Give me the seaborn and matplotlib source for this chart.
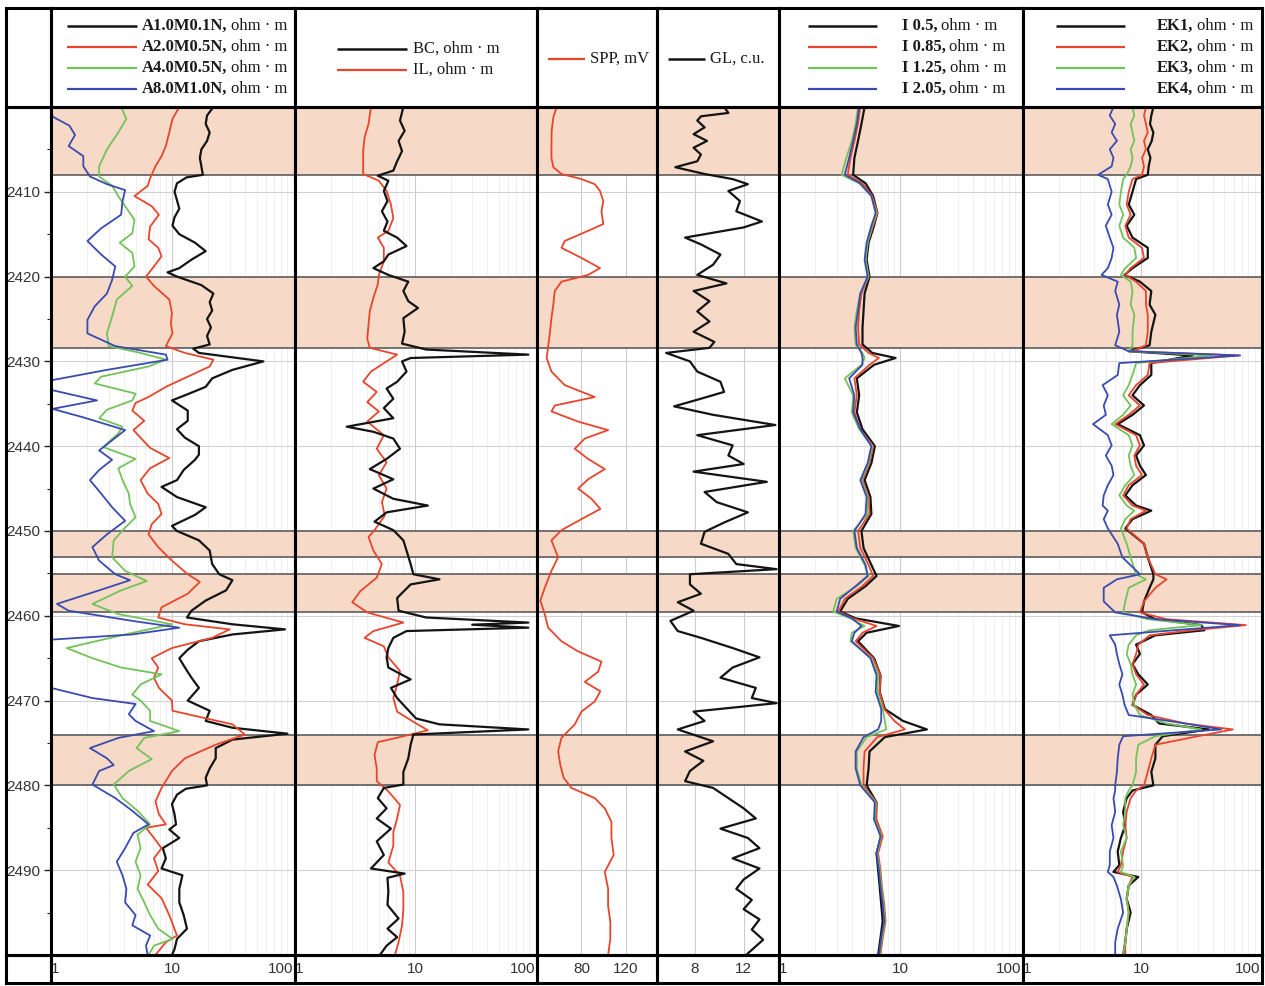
import matplotlib
matplotlib.use("Agg")
import matplotlib.pyplot as plt
import matplotlib.ticker as mticker
import seaborn as sns

# ---- layout (pixels of the 1265x986 picture) ----
W, H = 1265, 986
COLS = [6, 51, 295, 537, 657, 779, 1023, 1262]
Y_TOP, Y_HDR, Y_BOT, Y_END = 8, 107, 955, 983

BLACK = "#141414"
RED = "#e8452c"
GREEN = "#74c25a"
BLUE = "#3a4bb0"
BAND = "#f6d9c7"

BANDS = [(2400, 2408), (2420, 2428.4), (2450, 2453.1), (2455.1, 2459.5), (2474, 2480)]

# ---- track 1: lateral sounding ----
T1_BLACK_D = [2400, 2401, 2402, 2403, 2404, 2405, 2406, 2407, 2408, 2408.3,
              2409, 2410, 2411, 2412, 2413, 2414, 2415, 2416, 2417, 2418,
              2419, 2419.5, 2420, 2421, 2422, 2423, 2424, 2425, 2426, 2427,
              2428, 2428.5, 2429, 2430, 2431, 2432, 2433, 2434, 2434.6, 2435.8,
              2437, 2438, 2439, 2440, 2441, 2441.6, 2442.8, 2444, 2444.8, 2446,
              2447.2, 2448.1, 2449.4, 2450, 2451.1, 2452.3, 2453.9, 2455.1, 2455.8, 2457,
              2458.2, 2459.4, 2460.2, 2461, 2461.6, 2462.2, 2463, 2464, 2465, 2466.1,
              2467.3, 2468.5, 2470, 2471.2, 2472.4, 2473.2, 2473.9, 2474.6, 2475.6, 2476.8,
              2478, 2479.1, 2480, 2480.4, 2481.1, 2482.2, 2483.4, 2484.6, 2485.2, 2486.2,
              2487.4, 2488.6, 2489.8, 2490.6, 2492.2, 2493.8, 2495.3, 2496.9, 2498.1, 2499.3,
              2500]
T1_BLACK = [22, 19.5, 19, 20.5, 19.5, 17.5, 17, 17.5, 18, 13.2,
            11, 10.5, 11, 11.5, 10.5, 10.1, 11.5, 15.5, 19, 14.5,
            11.5, 9.2, 11, 17.5, 22, 20.5, 21.5, 19.5, 21, 19.5,
            20.5, 15, 16.7, 57, 31.6, 21.5, 19, 12.8, 10, 13.5,
            13.5, 11, 12.8, 16.7, 16.7, 15.5, 12.5, 11, 8.2, 11,
            19, 15.5, 10, 11, 16.7, 20.5, 21.5, 24.6, 31.6, 28,
            19, 14.5, 13.3, 31.6, 86, 31.6, 16.7, 13.5, 11.5, 12.8,
            14.5, 16.7, 13.5, 20.5, 19, 31.6, 90, 31.6, 23, 23,
            20.5, 19, 19.5, 13, 11, 10, 10.5, 10.8, 9.5, 11.5,
            8.4, 8.9, 8.2, 12.2, 11.5, 11.5, 12.5, 13.3, 11, 10.5,
            10]

T1_RED_D = [2400, 2401.4, 2403, 2404.6, 2405.8, 2407, 2408.4, 2409.3, 2410.5, 2411.7,
            2412.7, 2414.1, 2415.6, 2416.6, 2417.6, 2418.8, 2420, 2421.1, 2422.7, 2424.3,
            2425.5, 2426.7, 2428.2, 2429, 2429.8, 2430.6, 2431.8, 2433, 2434.2, 2434.9,
            2435.8, 2437, 2438.1, 2439, 2440.2, 2441.4, 2442.6, 2444, 2445.6, 2446.8,
            2448, 2449.2, 2450.4, 2451.9, 2453.5, 2455.1, 2456, 2457.4, 2459, 2460.2,
            2461, 2461.6, 2462.6, 2463.8, 2465, 2466.1, 2467.3, 2468.5, 2470, 2471.2,
            2472.8, 2474, 2475.2, 2476.8, 2478.3, 2480.3, 2481.9, 2483.4, 2484.6, 2485,
            2486.2, 2487.4, 2488.6, 2490.1, 2491.7, 2493.3, 2495.3, 2497.7, 2498.5, 2500]
T1_RED = [11.5, 10.1, 9.5, 8.9, 8.2, 7.3, 6.6, 6.3, 4.9, 6.8,
          7.8, 6.6, 6.4, 7.7, 8.2, 7.1, 6.1, 7.1, 9.5, 10,
          9.8, 10.1, 8.9, 12.8, 22, 20.5, 13.5, 8.9, 6.4, 5.0,
          4.7, 5.9, 4.8, 5.5, 6.6, 9.5, 6.6, 5.5, 6.3, 7.7,
          8.2, 6.8, 6.4, 7.7, 10, 13.5, 17, 13.5, 8.2, 7.7,
          12.8, 30, 21.5, 10, 6.8, 7.7, 7.1, 7.8, 10, 10.1,
          31.6, 40, 23, 12.8, 10, 8.2, 7.3, 7.8, 8.9, 6.1,
          7.1, 8.2, 7.1, 7.7, 6.3, 8.2, 9.5, 11, 8.9, 7.3]

T1_GREEN_D = [2400, 2401.4, 2403, 2405, 2407, 2408.2, 2409.3, 2410.5, 2411.7, 2413.3,
              2414.9, 2416, 2417.2, 2418.8, 2420, 2421.1, 2422.7, 2424.7, 2426.7, 2428.2,
              2429, 2429.8, 2430.6, 2431.8, 2432.6, 2433.8, 2434.6, 2435.7, 2436.7, 2437.7,
              2438.5, 2440.1, 2441.5, 2442.6, 2444, 2445.6, 2446.8, 2448.4, 2449.6, 2451.1,
              2453.1, 2454.7, 2455.9, 2457, 2458.6, 2459.8, 2461, 2462.2, 2463.8, 2465,
              2466.1, 2466.9, 2468.1, 2469.3, 2470, 2471.2, 2472.4, 2473.6, 2474.4, 2475.6,
              2476.9, 2478.3, 2479.9, 2481.5, 2483, 2484.6, 2485.8, 2487.4, 2489, 2490.6,
              2492.2, 2493.8, 2495.3, 2496.9, 2498.1, 2498.9, 2500]
T1_GREEN = [3.8, 4.2, 3.6, 2.9, 2.5, 2.5, 3.2, 3.6, 4.1, 4.9,
            4.7, 3.7, 4.7, 4.9, 4.1, 4.7, 3.5, 3.2, 2.9, 3.0,
            5.5, 8.9, 6.4, 2.6, 2.3, 5.0, 4.7, 2.9, 2.5, 3.9,
            3.6, 2.7, 5.0, 3.6, 3.9, 4.4, 4.5, 5.0, 4.1, 3.3,
            3.2, 4.1, 6.2, 3.8, 2.2, 3.6, 10, 4.1, 1.35, 2.2,
            3.8, 8.2, 5.5, 4.7, 5.5, 6.6, 6.6, 11.5, 5.9, 5.1,
            6.8, 4.4, 3.3, 3.9, 5.2, 6.6, 5.2, 5.5, 5.0, 5.5,
            5.2, 5.9, 6.6, 7.7, 10.1, 7.1, 6.4]

T1_BLUE_D = [2400, 2401.2, 2402.2, 2403.3, 2404.6, 2405.8, 2407, 2408.2, 2409.1, 2409.8,
             2411.1, 2412.7, 2414.3, 2415.8, 2417.4, 2418.8, 2420.4, 2422, 2423.5, 2425.1,
             2426.7, 2428.2, 2429.2, 2429.8, 2431, 2432.2, 2432.8, 2433.4, 2434.6, 2435.6,
             2436.6, 2438.1, 2439.3, 2440.5, 2441.6, 2442.8, 2444, 2445.6, 2447.2, 2448.8,
             2450.4, 2451.9, 2453.5, 2455.1, 2455.8, 2457, 2458.6, 2459.4, 2460.6, 2461.4,
             2462.2, 2462.8, 2463.4, 2468, 2468.5, 2469.7, 2470.4, 2471.6, 2472.4, 2473.6,
             2474.4, 2475.6, 2476.8, 2477.6, 2478.3, 2479.9, 2481.5, 2483, 2484.6, 2485.6,
             2487.4, 2489, 2490.6, 2492.2, 2493.8, 2495.3, 2496.5, 2497.7, 2498.9, 2500]
T1_BLUE = [0.9, 1.05, 1.42, 1.58, 1.4, 1.85, 1.85, 2.1, 2.9, 4.1,
           3.9, 3.8, 2.6, 2.0, 2.6, 3.4, 3.2, 2.9, 2.3, 2.0,
           2.0, 3.4, 8.9, 9.2, 2.9, 1.03, 0.9, 1.03, 2.4, 1.03,
           1.85, 4.1, 3.2, 2.5, 3.2, 2.5, 2.1, 2.6, 3.2, 4.1,
           2.9, 2.2, 2.5, 3.4, 4.5, 2.5, 1.12, 1.4, 4.7, 11.5,
           4.7, 1.03, 0.85, 0.85, 1.0, 2.2, 5.0, 4.4, 5.0, 7.1,
           3.6, 2.1, 2.9, 3.3, 2.5, 2.2, 3.4, 4.7, 6.4, 4.8,
           4.1, 3.5, 3.9, 4.2, 4.1, 5.0, 4.7, 6.6, 6.1, 6.3]

# ---- track 2: BC and IL ----
T2_BC_D = [2400, 2401.6, 2402.8, 2404, 2405.2, 2406.4, 2407.5, 2408.1, 2408.7, 2409.9,
           2411.1, 2412.3, 2413.5, 2414.6, 2415.4, 2416.4, 2417.4, 2418.2, 2419, 2419.8,
           2420.6, 2421.7, 2422.9, 2423.7, 2424.9, 2426.5, 2427.9, 2428.6, 2429.2, 2429.6,
           2430, 2431.2, 2432.4, 2433.2, 2434.4, 2435.5, 2436.7, 2437.7, 2438.3, 2439.1,
           2440.3, 2441.5, 2442.7, 2443.9, 2445, 2446.2, 2447, 2447.8, 2448.9, 2449.9,
           2451.1, 2452.3, 2453.9, 2455.1, 2455.7, 2456.3, 2457.9, 2459.4, 2460.2, 2460.8,
           2461.05, 2461.4, 2461.8, 2462.6, 2463.8, 2464.9, 2466.1, 2467.5, 2468.5, 2469.7,
           2470.9, 2472.1, 2472.8, 2473.4, 2474, 2475.2, 2476.8, 2478.4, 2479.9, 2480.3,
           2481.5, 2482.7, 2483.9, 2485.1, 2486.6, 2488.2, 2489.8, 2490.4, 2490.9, 2492.5,
           2494.1, 2495.7, 2496.9, 2497.9, 2498.9, 2500]
T2_BC = [8.0, 7.5, 8.2, 7.3, 7.8, 7.1, 6.6, 4.9, 6.0, 5.5,
         5.9, 5.3, 5.9, 5.5, 7.1, 8.5, 6.0, 5.5, 4.5, 6.0,
         8.8, 8.0, 8.8, 10.6, 8.0, 8.2, 7.8, 12.4, 88, 9.2,
         7.8, 8.5, 7.1, 5.8, 6.6, 5.5, 6.6, 2.7, 4.5, 6.6,
         7.5, 5.8, 4.2, 6.6, 4.5, 6.6, 12.8, 5.8, 4.6, 6.6,
         8.0, 8.5, 9.2, 9.7, 16, 9.2, 7.1, 7.3, 12.4, 88,
         30, 88, 8.5, 6.6, 6.0, 5.8, 6.0, 9.2, 6.3, 7.1,
         8.5, 10.2, 16, 88, 9.7, 9.2, 8.8, 8.0, 8.0, 5.5,
         4.9, 5.8, 4.8, 6.3, 4.8, 5.5, 4.3, 8.2, 5.9, 6.0,
         5.9, 7.3, 5.9, 7.1, 5.8, 5.1]

T2_IL_D = [2400, 2402, 2403.6, 2405.2, 2406.7, 2407.9, 2408.7, 2409.9, 2411.5, 2413.1,
           2414.6, 2415.4, 2416.6, 2418.2, 2419.8, 2420.9, 2422.5, 2424.1, 2425.7, 2427.3,
           2428.4, 2429.2, 2430, 2431.2, 2432.4, 2433.6, 2434.8, 2435.9, 2437.1, 2438.7,
           2440.3, 2441.9, 2443.4, 2445, 2446.6, 2448.2, 2449.9, 2450.7, 2452.3, 2453.9,
           2455.5, 2457.1, 2458.4, 2459.6, 2460.8, 2461.8, 2462.6, 2463.6, 2464.9, 2466.5,
           2468.1, 2469.7, 2471.3, 2472.5, 2473.5, 2474.3, 2474.9, 2476.4, 2478, 2479.5,
           2480.7, 2482.3, 2483.9, 2485.5, 2487.1, 2489.1, 2490.6, 2492.6, 2494.6, 2496.5,
           2498.5, 2500]
T2_IL = [4.3, 4.1, 3.8, 3.7, 3.7, 3.7, 5.0, 5.8, 6.3, 6.6,
         6.0, 4.9, 5.5, 5.5, 5.0, 4.9, 4.5, 4.2, 4.1, 4.0,
         4.2, 7.1, 5.8, 4.3, 3.7, 4.8, 4.0, 5.0, 4.0, 5.5,
         4.8, 5.8, 5.0, 5.8, 5.3, 5.6, 4.6, 4.1, 4.5, 5.3,
         4.8, 3.5, 3.0, 4.0, 8.0, 4.5, 3.8, 5.5, 6.0, 7.5,
         7.1, 6.6, 7.1, 9.7, 12.8, 7.5, 4.9, 4.6, 4.8, 4.8,
         6.0, 7.5, 7.1, 6.6, 6.6, 6.0, 7.5, 8.0, 8.0, 7.8,
         7.3, 6.8]

# ---- track 3: SPP, mV ----
SPP_D = [2400, 2401.2, 2402.8, 2404.4, 2406, 2407.1, 2407.9, 2408.5, 2409.1, 2409.9,
         2411.1, 2412.3, 2413.8, 2414.6, 2415.8, 2416.6, 2417.8, 2419, 2419.8, 2420.6,
         2421.7, 2423.3, 2424.9, 2426.5, 2428.1, 2429.6, 2431.2, 2432.8, 2434.2, 2435.2,
         2435.9, 2437.1, 2438.1, 2439.1, 2440.3, 2441.5, 2442.7, 2443.9, 2445, 2446.2,
         2447.4, 2448.6, 2449.9, 2451.1, 2453.1, 2454.7, 2456.7, 2458.2, 2459.8, 2461.4,
         2463, 2464.2, 2465.4, 2466.6, 2467.8, 2468.9, 2470.1, 2471.3, 2472.8, 2474.4,
         2476, 2477.6, 2479.1, 2480.3, 2481.5, 2482.7, 2484.3, 2486.2, 2488.2, 2490.2,
         2492.2, 2494.2, 2496.1, 2498.1, 2500]
SPP = [57.7, 54.7, 53.2, 53, 53, 54.7, 62, 80, 92, 96.7,
       99.7, 98, 99.7, 86, 65, 62, 80, 96.7, 86, 62,
       56, 54.7, 53, 51.7, 50.2, 48.7, 53, 65, 92, 56,
       53, 77, 104, 83, 74, 86, 101, 86, 77, 89,
       97, 80, 62, 53, 59, 53, 47, 43, 47, 50,
       62, 77, 98, 95, 83, 97, 92, 80, 74, 62,
       59, 61, 64, 71, 92, 101, 107, 107, 109, 101,
       104, 104, 106, 106, 104]

# ---- track 4: GL, c.u. ----
GL_D = [2400.2, 2400.7, 2401.1, 2401.6, 2402.4, 2403.2, 2404, 2404.8, 2405.6, 2406.4,
        2407.1, 2407.9, 2408.5, 2409.1, 2409.9, 2411.1, 2412.3, 2413.5, 2414.2, 2415.4,
        2416.2, 2417.4, 2418.6, 2419.8, 2420.8, 2421.7, 2422.9, 2424.1, 2425.3, 2426.5,
        2427.7, 2428.4, 2429, 2430, 2431.2, 2432.4, 2433.6, 2434.4, 2435.3, 2436.3,
        2437.5, 2438.7, 2439.9, 2441.1, 2442.1, 2443, 2444.2, 2445.4, 2446.6, 2447.8,
        2449, 2450.1, 2451.5, 2452.7, 2453.9, 2454.5, 2455.1, 2456.3, 2457.4, 2458.4,
        2459.4, 2460.6, 2461.8, 2462.6, 2463.8, 2464.9, 2466.1, 2467.3, 2468.5, 2469.7,
        2470.3, 2471.3, 2472.4, 2473.4, 2474.8, 2476, 2477.1, 2478.3, 2479.5, 2480.3,
        2481.5, 2482.7, 2483.9, 2485.1, 2486.2, 2487.4, 2488.6, 2489.8, 2491.1, 2492.2,
        2493.5, 2494.6, 2495.8, 2497, 2498.2, 2499.4, 2500]
GL = [10.5, 10.75, 8.5, 8.2, 8.8, 7.9, 9.0, 7.9, 8.5, 8.2,
      6.4, 8.8, 11.1, 12.35, 10.75, 11.7, 11.4, 13.5, 12.0, 7.2,
      8.5, 10.1, 9.5, 8.2, 10.6, 7.9, 9.2, 8.2, 9.2, 7.9,
      9.6, 9.2, 5.65, 7.6, 8.2, 10.1, 10.4, 8.5, 6.3, 9.5,
      14.6, 8.2, 11.1, 10.75, 12.0, 7.9, 13.9, 8.8, 9.8, 12.35,
      10.4, 8.8, 8.5, 10.75, 11.4, 14.7, 7.6, 7.6, 8.5, 6.6,
      7.9, 6.0, 6.6, 8.5, 11.1, 13.3, 11.1, 10.1, 13.0, 12.67,
      14.7, 7.9, 8.8, 6.6, 9.5, 7.2, 8.7, 7.6, 7.2, 9.5,
      10.75, 12.0, 13.0, 10.1, 12.35, 13.3, 11.1, 13.3, 12.0, 11.4,
      12.67, 12.0, 13.3, 12.67, 13.6, 12.67, 12.2]

# ---- track 5: induction probes I ----
T5_D = [2400, 2402, 2404, 2406, 2408, 2409, 2410.5, 2412.5, 2414, 2416,
        2418, 2420, 2422, 2424, 2426, 2428, 2429, 2429.6, 2430.4, 2432,
        2434, 2436, 2438, 2440, 2442, 2444, 2446, 2448, 2450, 2452,
        2454, 2455.3, 2456.5, 2458, 2459.5, 2460.3, 2461.2, 2462, 2463, 2465,
        2467, 2469, 2471, 2472.4, 2473.4, 2474.3, 2476, 2478, 2480, 2482,
        2484, 2486, 2488, 2490, 2492, 2494, 2496, 2498, 2500]
T5_I05 = [5.1, 4.8, 4.5, 4.2, 4.1, 5.2, 6.0, 6.5, 6.1, 5.5,
          5.3, 5.6, 5.1, 5.0, 4.9, 4.9, 5.9, 9.2, 6.1, 4.4,
          4.6, 4.4, 4.9, 6.2, 5.8, 5.1, 5.7, 5.8, 4.8, 5.0,
          5.8, 6.4, 5.2, 3.7, 3.2, 4.3, 9.8, 5.3, 4.5, 6.1,
          6.9, 6.8, 7.5, 10.6, 16.7, 7.5, 5.6, 5.5, 5.3, 6.4,
          6.3, 7.0, 6.4, 6.6, 6.8, 7.0, 7.2, 6.9, 6.6]
T5_I085 = [4.7, 4.5, 4.2, 3.9, 3.7, 4.9, 5.9, 6.5, 6.0, 5.4,
           5.2, 5.5, 4.8, 4.6, 4.5, 4.6, 5.5, 6.7, 5.6, 4.2,
           4.4, 4.2, 4.7, 6.0, 5.6, 4.9, 5.5, 5.6, 4.5, 4.7,
           5.5, 6.0, 4.9, 3.5, 3.1, 4.1, 6.4, 4.9, 4.3, 6.0,
           6.9, 6.8, 7.4, 9.0, 11.0, 6.5, 5.1, 5.0, 5.0, 6.4,
           6.4, 7.2, 6.6, 6.9, 7.1, 7.4, 7.6, 7.2, 6.9]
T5_I125 = [4.5, 4.3, 4.0, 3.6, 3.3, 4.6, 5.8, 6.4, 5.9, 5.4,
           5.2, 5.5, 4.7, 4.4, 4.2, 4.3, 4.9, 5.1, 4.8, 3.5,
           4.1, 4.0, 4.6, 5.9, 5.5, 4.8, 5.4, 5.4, 4.1, 4.3,
           5.1, 5.5, 4.4, 3.0, 2.8, 3.9, 5.1, 4.0, 3.9, 5.8,
           6.6, 6.5, 7.2, 7.5, 7.7, 5.3, 4.4, 4.4, 4.8, 6.3,
           6.2, 7.0, 6.5, 6.8, 7.0, 7.3, 7.5, 7.1, 6.8]
T5_I205 = [4.6, 4.4, 4.1, 3.8, 3.5, 4.7, 5.8, 6.3, 5.8, 5.3,
           5.1, 5.4, 4.7, 4.5, 4.3, 4.4, 4.8, 4.9, 4.9, 3.8,
           4.2, 4.1, 4.7, 5.8, 5.4, 4.7, 5.3, 5.2, 4.2, 4.4,
           5.2, 5.4, 4.3, 3.2, 3.0, 4.0, 4.8, 4.2, 4.0, 5.7,
           6.4, 6.3, 7.0, 7.0, 6.6, 5.0, 4.3, 4.3, 4.7, 6.2,
           6.1, 6.9, 6.4, 6.7, 6.9, 7.2, 7.4, 7.0, 6.7]

# ---- track 6: EK probes ----
T6_D = [2400, 2401, 2402, 2403, 2404, 2405, 2406, 2407, 2408, 2408.5,
        2410, 2411.5, 2412.7, 2414, 2415.4, 2416.6, 2417.8, 2419, 2419.8, 2420.6,
        2421.7, 2423.3, 2424.5, 2426.5, 2428.1, 2428.8, 2429.3, 2430.2, 2431.6, 2432.8,
        2434, 2435.2, 2436.3, 2437.4, 2438.7, 2439.9, 2441.1, 2442.3, 2443.4, 2444.6,
        2445.8, 2447, 2447.6, 2448.6, 2449.7, 2451.5, 2453.1, 2455.1, 2455.7, 2456.7,
        2458.3, 2459.6, 2460.4, 2461.1, 2461.7, 2462.3, 2463.4, 2464.5, 2465.7, 2466.9,
        2468.1, 2469.3, 2470.5, 2471.7, 2472.7, 2473.4, 2474.2, 2475.2, 2476.8, 2478.4,
        2480, 2480.6, 2481.5, 2483.1, 2484.7, 2486.2, 2487.8, 2489.4, 2490.2, 2490.8,
        2491.8, 2493.4, 2495, 2496.9, 2498.5, 2500]
T6_EK1 = [12.6, 12.1, 11.8, 12.6, 12.2, 11.3, 11.9, 11.5, 11.3, 9.0,
          8.4, 7.8, 8.7, 7.5, 8.4, 11.3, 11.3, 8.4, 7.2, 9.7,
          12.1, 11.7, 13.1, 12.1, 11.7, 7.8, 27, 12.1, 12.1, 9.7,
          8.4, 10.5, 8.4, 6.3, 9.7, 10.5, 9.0, 9.7, 10.9, 8.4,
          7.3, 9.0, 12.1, 8.4, 7.3, 10.5, 11.3, 12.6, 12.6, 11.7,
          10.5, 10.1, 13.1, 32, 34, 13.1, 9.0, 9.7, 8.4, 9.4,
          11.3, 9.0, 8.4, 12.1, 14.1, 37, 15.1, 13.1, 13.1, 12.1,
          12.6, 8.4, 7.5, 7.0, 7.3, 6.7, 6.3, 6.5, 5.8, 9.4,
          7.8, 7.5, 8.1, 7.5, 7.3, 7.0]
T6_EK2 = [10.9, 10.5, 10.9, 11.3, 10.5, 10.9, 10.1, 10.5, 10.1, 8.4,
          7.8, 7.5, 8.1, 7.3, 7.8, 10.1, 10.5, 8.1, 7.3, 9.0,
          10.9, 10.9, 11.3, 11.3, 10.9, 8.4, 66, 11.7, 11.3, 9.0,
          7.8, 9.7, 7.8, 6.0, 9.0, 9.7, 8.7, 9.0, 10.1, 7.8,
          7.0, 8.4, 10.9, 8.1, 7.5, 10.5, 11.3, 13.1, 16.3, 13.1,
          10.5, 9.7, 16.3, 76, 27, 11.7, 9.4, 9.0, 8.4, 9.0,
          10.5, 9.0, 8.4, 11.3, 23.5, 59, 30, 13.1, 12.1, 11.3,
          10.5, 9.0, 8.1, 7.5, 7.3, 7.5, 7.0, 6.7, 6.3, 8.4,
          7.8, 7.5, 7.8, 7.5, 7.3, 7.3]
T6_EK3 = [8.4, 8.7, 8.1, 8.4, 8.7, 8.1, 8.4, 8.1, 7.5, 7.0,
          6.7, 6.5, 7.0, 6.5, 7.0, 8.7, 9.0, 7.3, 6.7, 8.1,
          8.4, 8.1, 8.7, 8.4, 8.4, 7.8, 39, 9.0, 8.4, 7.8,
          7.0, 8.1, 7.0, 5.6, 7.8, 8.4, 7.8, 8.1, 8.7, 7.3,
          6.5, 7.5, 8.7, 7.3, 6.7, 7.5, 8.1, 9.0, 10.9, 7.8,
          7.3, 7.0, 11.3, 32, 11.7, 9.0, 7.8, 7.5, 8.1, 8.4,
          9.0, 8.4, 8.7, 9.7, 16.3, 32, 13.1, 9.4, 9.0, 9.0,
          8.4, 7.8, 7.3, 7.3, 7.0, 7.5, 6.7, 7.0, 6.7, 8.7,
          7.8, 7.5, 7.8, 7.5, 7.3, 7.0]
T6_EK4 = [5.8, 5.4, 6.0, 5.6, 6.2, 5.4, 5.8, 5.6, 4.3, 5.2,
          5.6, 5.2, 5.6, 5.0, 5.4, 5.8, 5.6, 5.2, 4.6, 6.3,
          6.0, 6.5, 6.2, 6.5, 6.0, 7.8, 68, 6.5, 6.3, 4.7,
          5.2, 4.8, 5.0, 3.9, 5.2, 5.6, 5.0, 5.6, 5.8, 5.2,
          4.8, 4.7, 5.2, 4.8, 5.2, 6.3, 6.9, 9.7, 6.2, 4.8,
          4.8, 6.0, 13.1, 68, 19, 5.4, 6.0, 6.2, 6.5, 6.9,
          6.5, 6.9, 7.2, 7.8, 23.5, 47, 7.0, 6.5, 6.3, 6.2,
          6.0, 6.0, 5.8, 6.0, 5.6, 5.8, 5.4, 5.4, 5.2, 5.8,
          6.2, 6.7, 7.0, 6.3, 6.0, 6.0]

T1_NAMES = ["A1.0M0.1N,", "A2.0M0.5N,", "A4.0M0.5N,", "A8.0M1.0N,"]
T5_NAMES = ["I 0.5,", "I 0.85,", "I 1.25,", "I 2.05,"]
T6_NAMES = ["EK1,", "EK2,", "EK3,", "EK4,"]
UNIT = "ohm · m"

sns.set_style("white")
plt.rcParams["font.family"] = ["Liberation Sans", "DejaVu Sans"]
SERIF = ["Liberation Serif", "DejaVu Serif"]
LOG_MINOR = [2, 3, 4, 5, 6, 7, 8, 9, 20, 30, 40, 50, 60, 70, 80, 90]

TRACKS = [
    dict(log=True, lim=(1, 104), ticks=[1, 10, 100], labels=["1", "10", "100"],
         grid=[10], curves=[(T1_BLACK_D, T1_BLACK, BLACK), (T1_RED_D, T1_RED, RED),
                            (T1_GREEN_D, T1_GREEN, GREEN), (T1_BLUE_D, T1_BLUE, BLUE)]),
    dict(log=True, lim=(1, 104), ticks=[1, 10, 100], labels=["1", "10", "100"],
         grid=[10], curves=[(T2_IL_D, T2_IL, RED), (T2_BC_D, T2_BC, BLACK)]),
    dict(log=False, lim=(40, 148), ticks=[80, 120], labels=["80", "120"],
         grid=[80, 120], curves=[(SPP_D, SPP, RED)]),
    dict(log=False, lim=(4.9, 14.9), ticks=[8, 12], labels=["8", "12"],
         grid=[8, 12], curves=[(GL_D, GL, BLACK)]),
    dict(log=True, lim=(1, 104), ticks=[1, 10, 100], labels=["1", "10", "100"],
         grid=[10], curves=[(T5_D, T5_I05, BLACK), (T5_D, T5_I085, RED),
                            (T5_D, T5_I125, GREEN), (T5_D, T5_I205, BLUE)]),
    dict(log=True, lim=(1, 104), ticks=[1, 10, 100], labels=["1", "10", "100"],
         grid=[10], curves=[(T6_D, T6_EK1, BLACK), (T6_D, T6_EK2, RED),
                            (T6_D, T6_EK3, GREEN), (T6_D, T6_EK4, BLUE)]),
]

fig = plt.figure(figsize=(W / 100, H / 100), dpi=100)


def cell(i, top, bottom, clear=False):
    ax = fig.add_axes([COLS[i] / W, 1 - bottom / H,
                       (COLS[i + 1] - COLS[i]) / W, (bottom - top) / H])
    for s in ax.spines.values():
        s.set_visible(True)
        s.set_linewidth(2.2)
        s.set_color("black")
    if clear:
        ax.set_facecolor("none")
        ax.set_xticks([])
        ax.set_yticks([])
    return ax


# depth column
cell(0, Y_HDR, Y_BOT, clear=True)

for i, tr in enumerate(TRACKS, start=1):
    ax = cell(i, Y_HDR, Y_BOT)
    if tr["log"]:
        ax.set_xscale("log")
        for v in LOG_MINOR:
            ax.axvline(v, color="#ededed", lw=0.6, zorder=0.2)
    for v in tr["grid"]:
        ax.axvline(v, color="#cccccc", lw=0.8, zorder=0.3)
    for d in range(2410, 2500, 10):
        ax.axhline(d, color="#d2d2d2", lw=0.8, zorder=0.3)
    for a, b in BANDS:
        ax.axhspan(a, b, color=BAND, lw=0, zorder=0.5)
        for edge in (a, b):
            if edge > 2400:
                ax.axhline(edge, color="#5c5c5c", lw=1.2, zorder=1)
    for dep, val, col in tr["curves"]:
        sns.lineplot(x=val, y=dep, orient="y", sort=True, estimator=None,
                     color=col, linewidth=1.6 if col == BLACK else 1.3,
                     legend=False, ax=ax)
    ax.set_xlim(*tr["lim"])
    ax.set_ylim(2500, 2400)
    ax.set_xlabel("")
    ax.set_ylabel("")
    ax.xaxis.set_minor_locator(mticker.NullLocator())
    ax.set_xticks(tr["ticks"])
    labs = ax.set_xticklabels(tr["labels"])
    if tr["log"]:
        for lab, ha in zip(labs, ["left", "center", "right"]):
            lab.set_ha(ha)
    ax.tick_params(axis="x", length=0, pad=5, labelsize=11, labelcolor="#333333")
    if i == 1:
        ax.set_yticks(range(2410, 2500, 10))
        ax.set_yticks(range(2405, 2500, 10), minor=True)
        ax.tick_params(axis="y", which="major", left=True, direction="out", length=5,
                       width=1, pad=3, labelsize=11, labelcolor="#333333")
        ax.tick_params(axis="y", which="minor", left=True, direction="out", length=3, width=0.8)
    else:
        ax.tick_params(axis="y", which="both", left=False, labelleft=False)

# header and bottom cells
for i in range(7):
    cell(i, Y_TOP, Y_HDR, clear=True)
    cell(i, Y_BOT, Y_END, clear=True)


def header(i):
    ax = fig.add_axes([COLS[i] / W, 1 - Y_HDR / H, (COLS[i + 1] - COLS[i]) / W, (Y_HDR - Y_TOP) / H])
    ax.set_facecolor("none")
    ax.set_xlim(COLS[i], COLS[i + 1])
    ax.set_ylim(Y_HDR, Y_TOP)
    ax.axis("off")
    return ax


def rich(ax, x, y, bold, rest):
    t = ax.text(x, y, bold, fontweight="bold", family=SERIF, size=12,
                color="#1a1a1a", ha="left", va="center")
    ax.annotate(rest, xy=(1, 0), xycoords=t, xytext=(2.5, 0), textcoords="offset points",
                family=SERIF, size=12, color="#1a1a1a", ha="left", va="bottom")


ROWS4 = [26, 47, 68, 89]
COLORS4 = [BLACK, RED, GREEN, BLUE]

ax = header(1)
for y, c, name in zip(ROWS4, COLORS4, T1_NAMES):
    ax.plot([67, 137], [y, y], color=c, lw=1.8 if c == BLACK else 1.6, solid_capstyle="butt")
    rich(ax, 142, y, name, UNIT)

ax = header(2)
for y, c, name in zip([49, 70], [BLACK, RED], ["BC, " + UNIT, "IL, " + UNIT]):
    ax.plot([337, 407], [y, y], color=c, lw=1.8 if c == BLACK else 1.6, solid_capstyle="butt")
    ax.text(413, y, name, family=SERIF, size=12, color="#1a1a1a", ha="left", va="center")

ax = header(3)
ax.plot([548, 585], [59, 59], color=RED, lw=1.6, solid_capstyle="butt")
ax.text(590, 59, "SPP, mV", family=SERIF, size=12, color="#1a1a1a", ha="left", va="center")

ax = header(4)
ax.plot([668, 705], [59, 59], color=BLACK, lw=1.8, solid_capstyle="butt")
ax.text(710, 59, "GL, c.u.", family=SERIF, size=12, color="#1a1a1a", ha="left", va="center")

ax = header(5)
for y, c, name in zip(ROWS4, COLORS4, T5_NAMES):
    ax.plot([808, 877], [y, y], color=c, lw=1.8 if c == BLACK else 1.6, solid_capstyle="butt")
    rich(ax, 902, y, name, UNIT)

ax = header(6)
for y, c, name in zip(ROWS4, COLORS4, T6_NAMES):
    ax.plot([1056, 1125], [y, y], color=c, lw=1.8 if c == BLACK else 1.6, solid_capstyle="butt")
    rich(ax, 1157, y, name, UNIT)

fig.savefig("out.png", dpi=100)
